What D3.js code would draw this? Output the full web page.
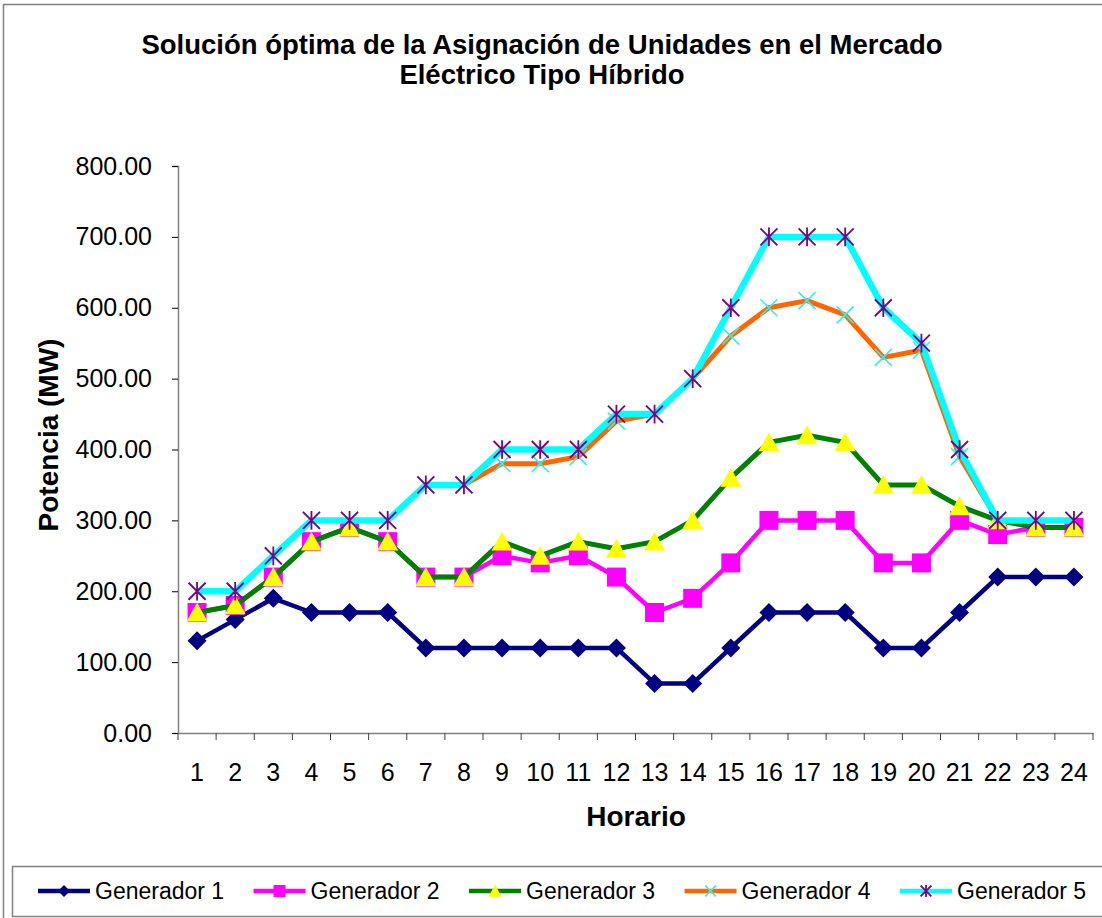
<!DOCTYPE html>
<html>
<head>
<meta charset="utf-8">
<script src="https://cdn.jsdelivr.net/npm/d3@7"></script>
<style>
  body { margin: 0; background: #fff; }
  text { font-family: "Liberation Sans", Arial, sans-serif; fill: #000; }
</style>
</head>
<body>
<div class="chart"></div>
<script>
"use strict";

// Data
const hours = d3.range(1, 25).map(String);
const yTicks = [0, 100, 200, 300, 400, 500, 600, 700, 800];
const seriesNames = ["Generador 1", "Generador 2", "Generador 3", "Generador 4", "Generador 5"];
const gen1 = [130,160,190,170,170,170,120,120,120,120,120,120,70,70,120,170,170,170,120,120,170,220,220,220];
const gen2 = [170,180,220,270,290,270,220,220,250,240,250,220,170,190,240,300,300,300,240,240,300,280,290,290];
const gen3 = [170,180,220,270,290,270,220,220,270,250,270,260,270,300,360,410,420,410,350,350,320,300,290,290];
const gen4 = [200,200,250,300,300,300,350,350,380,380,390,440,450,500,560,600,610,590,530,540,390,300,300,300];
const gen5 = [200,200,250,300,300,300,350,350,400,400,400,450,450,500,600,700,700,700,600,550,400,300,300,300];

// custom marker shapes for d3.symbol
const xShape = {draw(ctx, size){ const r = Math.sqrt(size) / 2;
  ctx.moveTo(-r, -r); ctx.lineTo(r, r); ctx.moveTo(-r, r); ctx.lineTo(r, -r); }};
const starShape = {draw(ctx, size){ const r = Math.sqrt(size) / 2;
  ctx.moveTo(-r, -r); ctx.lineTo(r, r); ctx.moveTo(-r, r); ctx.lineTo(r, -r);
  ctx.moveTo(0, -r * 1.1); ctx.lineTo(0, r * 1.1); }};
const diamondShape = {draw(ctx, size){ const r = Math.sqrt(size) / 2;
  ctx.moveTo(0, -r); ctx.lineTo(r, 0); ctx.lineTo(0, r); ctx.lineTo(-r, 0); ctx.closePath(); }};
const squareShape = {draw(ctx, size){ const r = Math.sqrt(size) / 2;
  ctx.rect(-r, -r, 2 * r, 2 * r); }};
const triShape = {draw(ctx, size){ const r = Math.sqrt(size) / 2;
  ctx.moveTo(0, -r * 0.95); ctx.lineTo(r, r * 0.85); ctx.lineTo(-r, r * 0.85); ctx.closePath(); }};

const series = [
  {name: seriesNames[0], values: gen1, line: "#000080", lw: 4.5, shape: diamondShape, size: 19 * 19, fill: "#000080", stroke: "none", sw: 0},
  {name: seriesNames[1], values: gen2, line: "#ff00ff", lw: 4.5, shape: squareShape, size: 19 * 19, fill: "#ff00ff", stroke: "none", sw: 0},
  {name: seriesNames[2], values: gen3, line: "#008000", lw: 5, shape: triShape, size: 21 * 21, fill: "#ffff00", stroke: "none", sw: 0},
  {name: seriesNames[3], values: gen4, line: "#ff6600", lw: 5, shape: xShape, size: 17 * 17, fill: "none", stroke: "#33eeee", sw: 1.6},
  {name: seriesNames[4], values: gen5, line: "#00ffff", lw: 6.5, shape: starShape, size: 17 * 17, fill: "none", stroke: "#800080", sw: 1.8}
];

const W = 1102, H = 918;
const plot = {left: 178, right: 1093, top: 166, bottom: 733};

const svg = d3.select(".chart")
  .append("svg")
  .attr("width", W)
  .attr("height", H);

// outer chart border
svg.append("rect")
  .attr("x", 3.5).attr("y", 4.5)
  .attr("width", 1130).attr("height", 940)
  .attr("fill", "#fff")
  .attr("stroke", "#808080")
  .attr("stroke-width", 1.5);

// Title
const title = svg.append("text")
  .attr("text-anchor", "middle")
  .style("font-weight", "bold")
  .style("font-size", "27.5px");
title.append("tspan").attr("x", 542).attr("y", 54)
  .text("Solución óptima de la Asignación de Unidades en el Mercado");
title.append("tspan").attr("x", 542).attr("y", 84)
  .text("Eléctrico Tipo Híbrido");

// Scales
const xScale = d3.scaleBand()
  .domain(hours)
  .range([plot.left, plot.right]);

const yScale = d3.scaleLinear()
  .domain([0, 800])
  .range([plot.bottom, plot.top]);

// Y axis
const yAxis = svg.append("g")
  .attr("transform", `translate(${plot.left},0)`)
  .call(d3.axisLeft(yScale).tickValues(yTicks).tickFormat(d3.format(".2f")).tickSize(6).tickPadding(20));
yAxis.select(".domain").attr("stroke", "#808080").attr("stroke-width", 1.5);
yAxis.selectAll(".tick line").attr("stroke", "#000").attr("stroke-width", 1);
yAxis.selectAll(".tick text")
  .style("font-size", "25px")
  .style("font-family", "'Liberation Sans', Arial, sans-serif")
  .attr("fill", "#000");

// X axis (ticks between categories)
const xAxis = svg.append("g")
  .attr("transform", `translate(0,${plot.bottom})`)
  .call(d3.axisBottom(xScale).tickSize(0).tickPadding(30));
xAxis.select(".domain").attr("stroke", "#808080").attr("stroke-width", 1.5);
xAxis.selectAll(".tick text")
  .style("font-size", "25px")
  .style("font-family", "'Liberation Sans', Arial, sans-serif")
  .attr("fill", "#000");
xAxis.selectAll(".sep")
  .data(d3.range(hours.length + 1))
  .enter()
  .append("line")
  .attr("class", "sep")
  .attr("x1", i => plot.left + i * xScale.step())
  .attr("x2", i => plot.left + i * xScale.step())
  .attr("y1", 0).attr("y2", 7)
  .attr("stroke", "#404040")
  .attr("stroke-width", 1);

// Axis titles
svg.append("text")
  .attr("x", 636).attr("y", 826)
  .attr("text-anchor", "middle")
  .style("font-weight", "bold")
  .style("font-size", "28px")
  .text("Horario");

svg.append("text")
  .attr("transform", "translate(58,435) rotate(-90)")
  .attr("text-anchor", "middle")
  .style("font-weight", "bold")
  .style("font-size", "28px")
  .text("Potencia (MW)");

// Lines and markers
const cx = i => xScale(hours[i]) + xScale.bandwidth() / 2;
const lineGen = d3.line()
  .x((d, i) => cx(i))
  .y(d => yScale(d));

series.forEach((s, k) => {
  const g = svg.append("g").attr("class", "series-" + k);
  g.append("path")
    .datum(s.values)
    .attr("d", lineGen)
    .attr("fill", "none")
    .attr("stroke", s.line)
    .attr("stroke-width", s.lw)
    .attr("stroke-linejoin", "round");
  g.selectAll(".mk")
    .data(s.values)
    .enter()
    .append("path")
    .attr("class", "mk")
    .attr("transform", (d, i) => `translate(${cx(i)},${yScale(d)})`)
    .attr("d", d3.symbol().type(s.shape).size(s.size))
    .attr("fill", s.fill)
    .attr("stroke", s.stroke)
    .attr("stroke-width", s.sw);
});

// Legend
const legend = svg.append("g");
legend.append("rect")
  .attr("x", 12.5).attr("y", 866.5)
  .attr("width", 1110).attr("height", 50)
  .attr("fill", "#fff")
  .attr("stroke", "#808080")
  .attr("stroke-width", 1.5);

const legendX = d3.scalePoint()
  .domain(seriesNames)
  .range([38, 900]);

series.forEach(s => {
  const lx = legendX(s.name);
  const item = legend.append("g").attr("transform", `translate(${lx},891)`);
  item.append("line")
    .attr("x1", 0).attr("x2", 52)
    .attr("stroke", s.line)
    .attr("stroke-width", Math.min(s.lw, 4.5));
  item.append("path")
    .attr("transform", "translate(26,0)")
    .attr("d", d3.symbol().type(s.shape).size(s.size * 0.4))
    .attr("fill", s.fill)
    .attr("stroke", s.stroke)
    .attr("stroke-width", s.sw);
  item.append("text")
    .attr("x", 57).attr("y", 8)
    .style("font-size", "23px")
    .text(s.name);
});
</script>
</body>
</html>
